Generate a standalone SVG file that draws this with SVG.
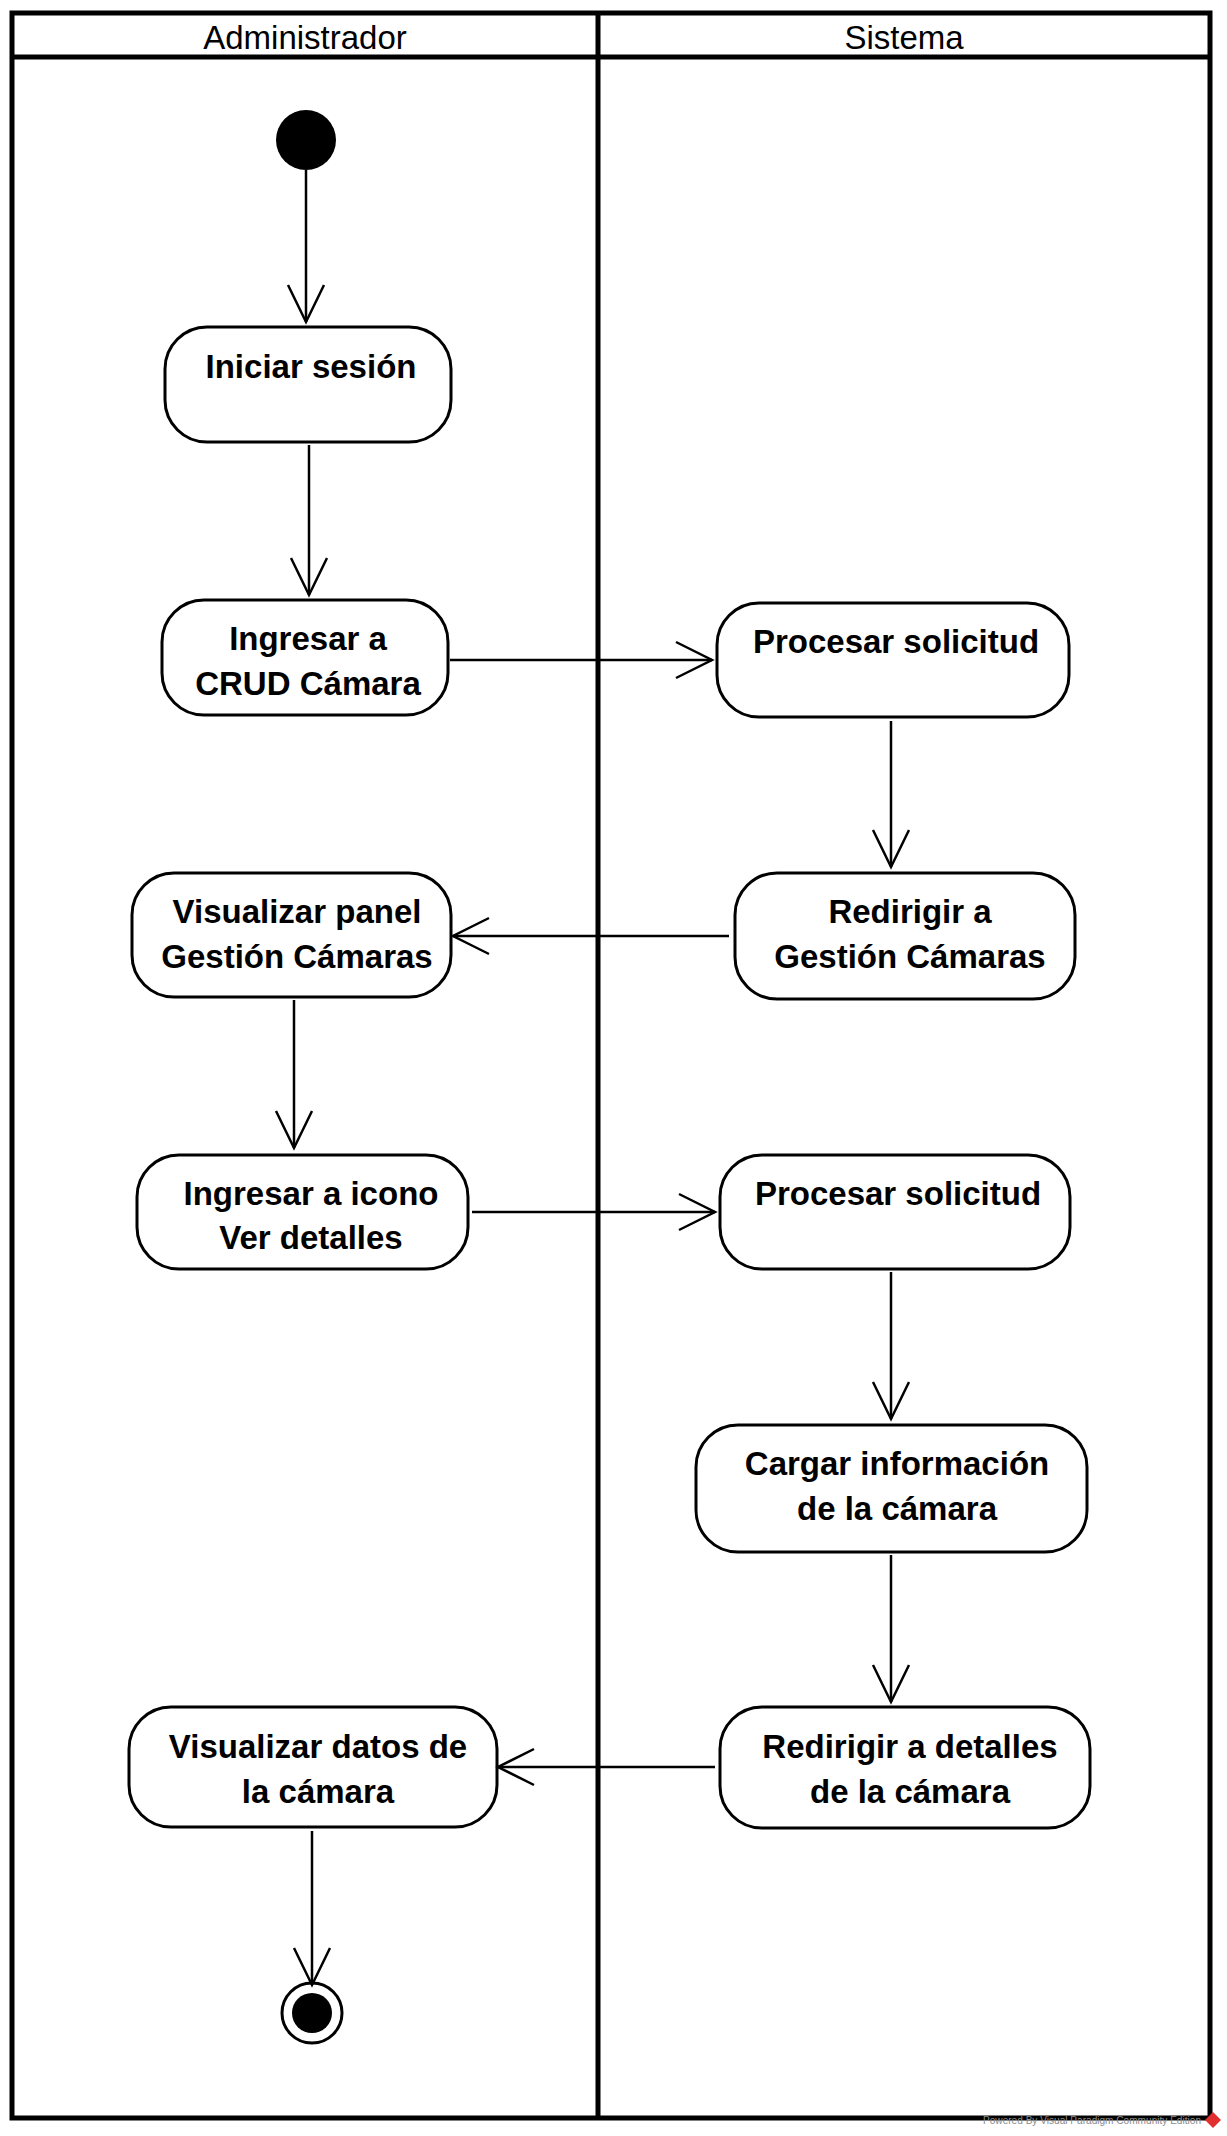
<svg xmlns="http://www.w3.org/2000/svg" width="1227" height="2136" viewBox="0 0 1227 2136">
<style>
.lane{fill:none;stroke:#000;stroke-width:5}
.hdr{font-family:"Liberation Sans",Arial,sans-serif;font-size:33px;fill:#000;text-anchor:middle}
.act rect{fill:#fff;stroke:#000;stroke-width:3}
.act text{font-family:"Liberation Sans",Arial,sans-serif;font-size:33px;font-weight:bold;fill:#000;text-anchor:middle}
.con line{stroke:#000;stroke-width:2.5;fill:none}
.con path{stroke:#000;stroke-width:2.5;fill:none}
.wm{font-family:"Liberation Sans",Arial,sans-serif;font-size:10px;fill:#8a8a8a}
</style>
<rect x="0" y="0" width="1227" height="2136" fill="#fff"/>
<g id="swimlanes">
<rect class="lane" x="12" y="13" width="1198" height="2105"/>
<line class="lane" x1="12" y1="57" x2="1210" y2="57"/>
<line class="lane" x1="598" y1="13" x2="598" y2="2118"/>
<text class="hdr" x="305" y="49">Administrador</text>
<text class="hdr" x="904" y="49">Sistema</text>
</g>
<g id="start"><circle cx="306" cy="140" r="30" fill="#000"/></g>
<g id="iniciar" class="act"><rect x="165" y="327" width="286" height="115" rx="42"/><text x="311" y="378">Iniciar sesión</text></g>
<g id="ingresarCrud" class="act"><rect x="162" y="600" width="286" height="115" rx="42"/><text x="308" y="650">Ingresar a</text><text x="308" y="695">CRUD Cámara</text></g>
<g id="procesar1" class="act"><rect x="717" y="603" width="352" height="114" rx="42"/><text x="896" y="653">Procesar solicitud</text></g>
<g id="redirigir1" class="act"><rect x="735" y="873" width="340" height="126" rx="42"/><text x="910" y="923">Redirigir a</text><text x="910" y="968">Gestión Cámaras</text></g>
<g id="visualizarPanel" class="act"><rect x="132" y="873" width="319" height="124" rx="42"/><text x="297" y="923">Visualizar panel</text><text x="297" y="968">Gestión Cámaras</text></g>
<g id="ingresarIcono" class="act"><rect x="137" y="1155" width="331" height="114" rx="42"/><text x="311" y="1205">Ingresar a icono</text><text x="311" y="1249">Ver detalles</text></g>
<g id="procesar2" class="act"><rect x="720" y="1155" width="350" height="114" rx="42"/><text x="898" y="1205">Procesar solicitud</text></g>
<g id="cargar" class="act"><rect x="696" y="1425" width="391" height="127" rx="42"/><text x="897" y="1475">Cargar información</text><text x="897" y="1520">de la cámara</text></g>
<g id="redirigir2" class="act"><rect x="720" y="1707" width="370" height="121" rx="42"/><text x="910" y="1758">Redirigir a detalles</text><text x="910" y="1803">de la cámara</text></g>
<g id="visualizarDatos" class="act"><rect x="129" y="1707" width="368" height="120" rx="42"/><text x="318" y="1758">Visualizar datos de</text><text x="318" y="1803">la cámara</text></g>
<g id="end"><circle cx="312" cy="2013" r="30" fill="#fff" stroke="#000" stroke-width="3"/><circle cx="312" cy="2013" r="20" fill="#000"/></g>
<g id="connectors" class="con">
<line x1="306" y1="170" x2="306" y2="322"/><path d="M288,285 L306,322 L324,285"/>
<line x1="309" y1="445" x2="309" y2="595"/><path d="M291,558 L309,595 L327,558"/>
<line x1="450" y1="660" x2="712" y2="660"/><path d="M676,642 L712,660 L676,678"/>
<line x1="891" y1="721" x2="891" y2="867"/><path d="M873,830 L891,867 L909,830"/>
<line x1="729" y1="936" x2="453" y2="936"/><path d="M489,918 L453,936 L489,954"/>
<line x1="294" y1="1000" x2="294" y2="1148"/><path d="M276,1111 L294,1148 L312,1111"/>
<line x1="472" y1="1212" x2="715" y2="1212"/><path d="M679,1194 L715,1212 L679,1230"/>
<line x1="891" y1="1272" x2="891" y2="1419"/><path d="M873,1382 L891,1419 L909,1382"/>
<line x1="891" y1="1555" x2="891" y2="1702"/><path d="M873,1665 L891,1702 L909,1665"/>
<line x1="715" y1="1767" x2="498" y2="1767"/><path d="M534,1749 L498,1767 L534,1785"/>
<line x1="312" y1="1831" x2="312" y2="1985"/><path d="M294,1948 L312,1985 L330,1948"/>
</g>
<g id="watermark">
<text class="wm" x="983" y="2124" textLength="218" lengthAdjust="spacingAndGlyphs">Powered By  Visual Paradigm Community Edition</text>
<path d="M1213,2112 L1221,2120 L1213,2128 L1205,2120 Z" fill="#e03030"/>
</g>
</svg>
